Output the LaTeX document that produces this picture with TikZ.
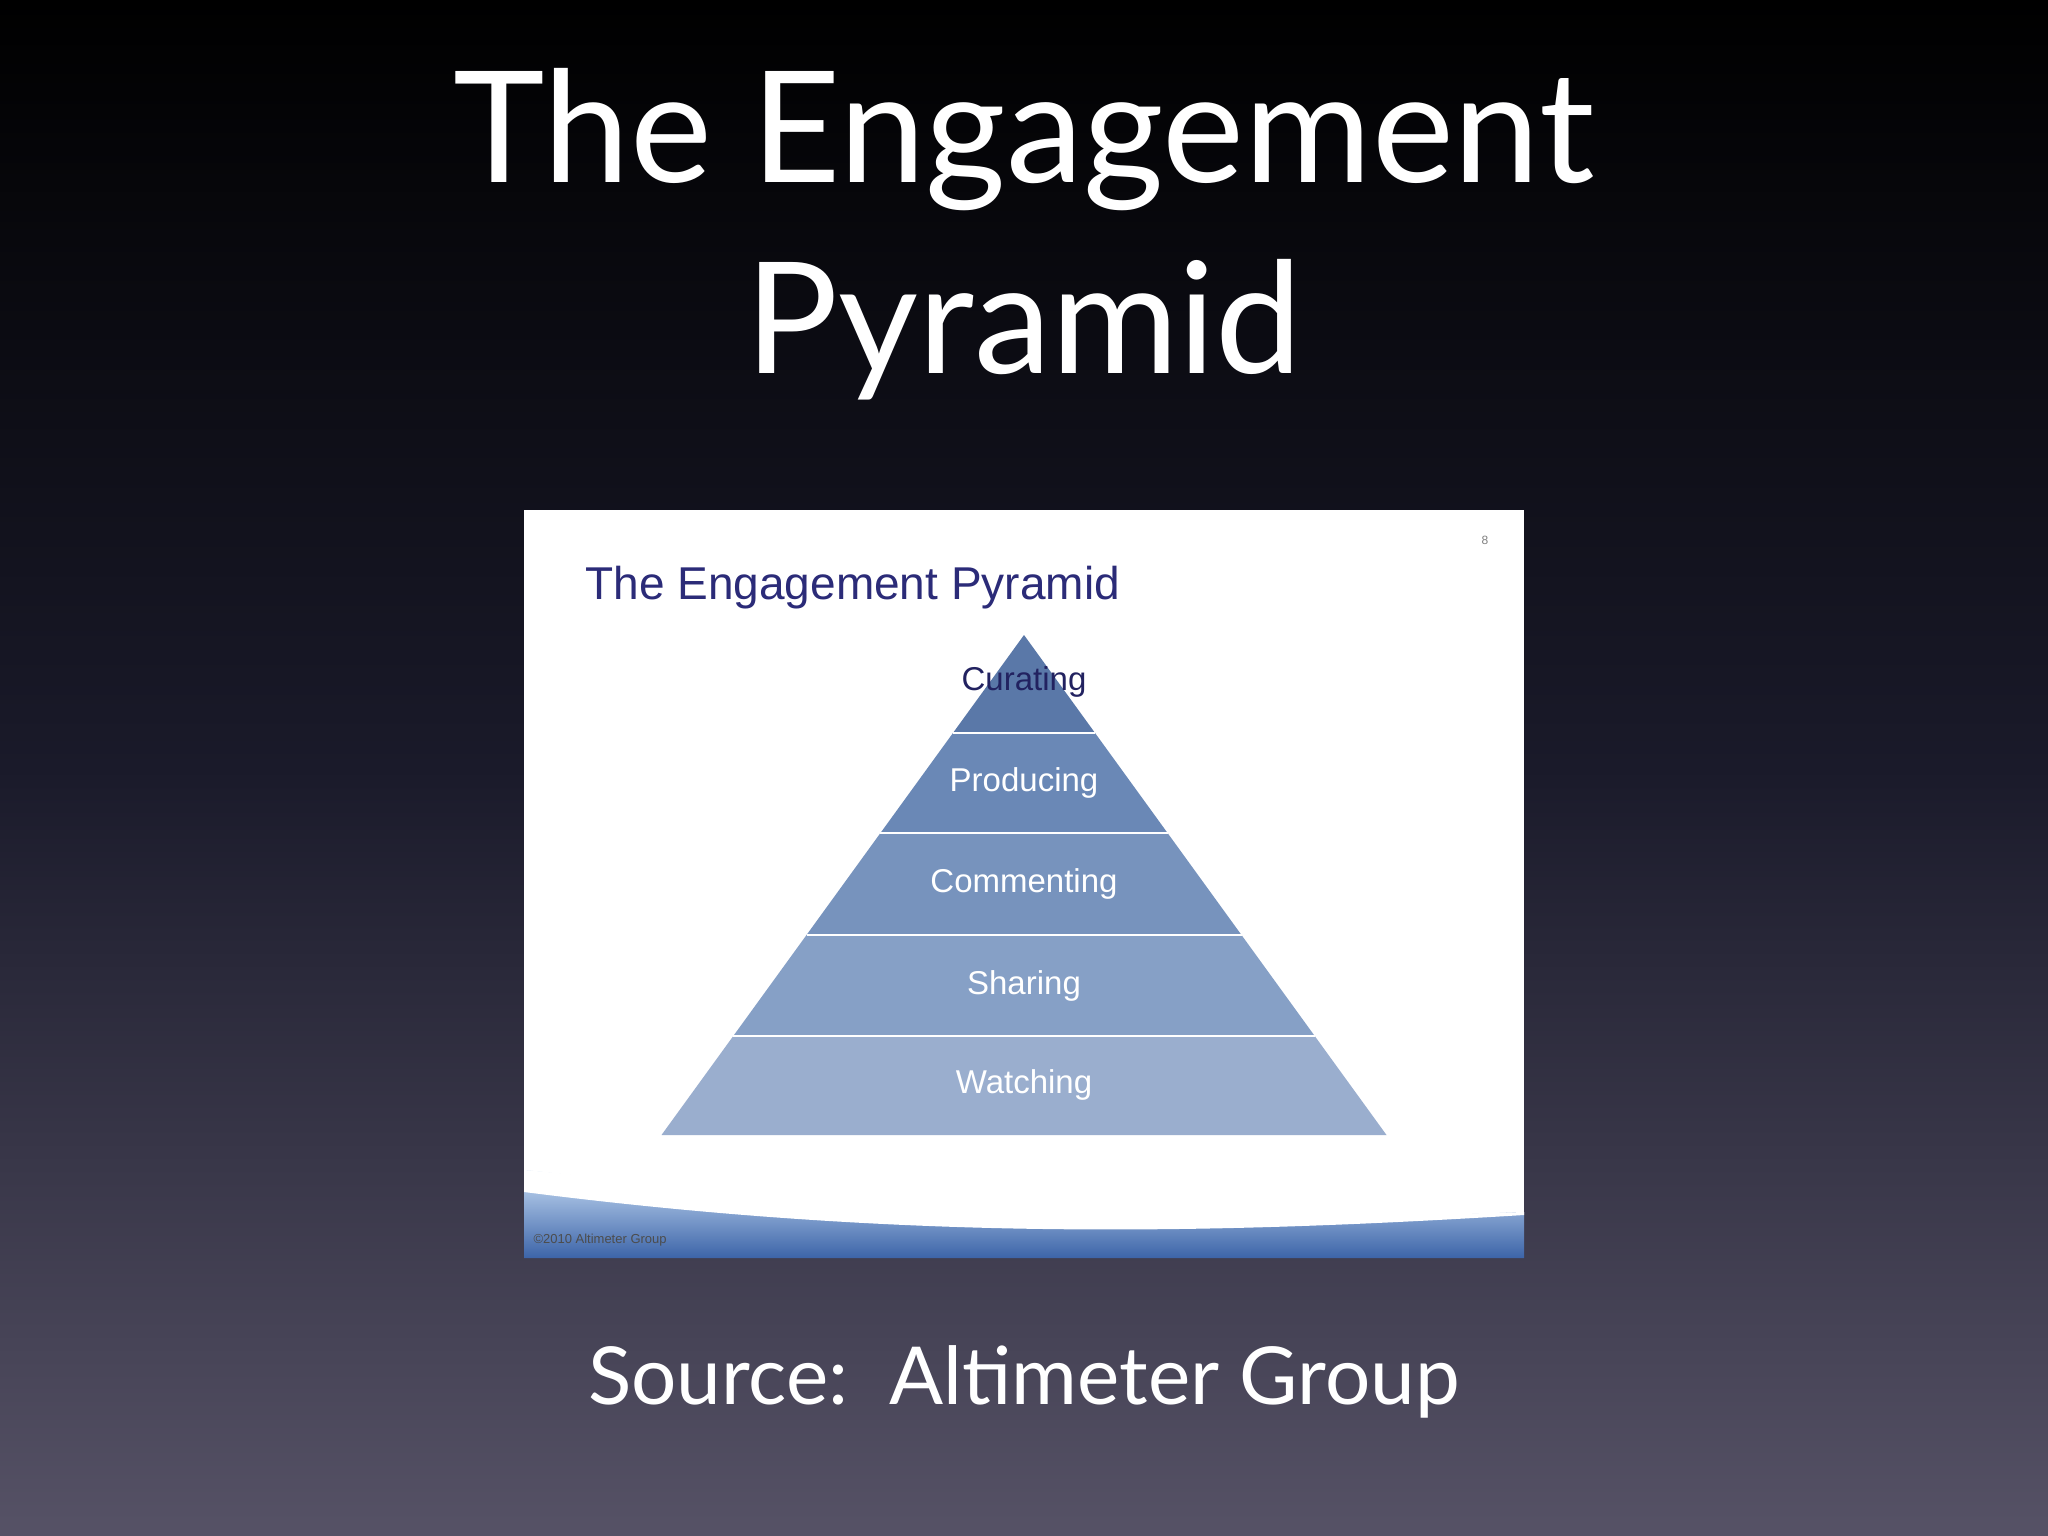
\documentclass[tikz,border=0pt]{standalone}
\usepackage{fontspec}
\setmainfont{Lato}
\newfontfamily\arial{Liberation Sans}
\begin{document}
\begin{tikzpicture}[x=1pt,y=-1pt,
 lab/.style={font=\arial\fontsize{33}{36}\selectfont,text=white}]
\definecolor{bgb}{HTML}{565266}
\definecolor{bgm}{HTML}{1A1A2A}
\definecolor{navy}{HTML}{2B2B78}
\definecolor{wlight}{HTML}{C8DDF5}
\definecolor{wdark}{HTML}{3C64A8}
\shade[top color=black,bottom color=bgb,middle color=bgm] (0,0) rectangle (2048,1536);
\useasboundingbox (0,0) rectangle (2048,1536);
\node[text=white,font=\fontsize{155}{170}\selectfont] (t1) at (1024,140) {The Engagement};
\node[text=white,font=\fontsize{155}{170}\selectfont] (t2) at (1024,330) {Pyramid};
\fill[white] (524,510) rectangle (1524,1258);
\shade[top color=wlight,bottom color=wdark] (524,1170) .. controls (800,1200) and (1100,1230) .. (1524,1212) -- (1524,1258) -- (524,1258) -- cycle;
\fill[white] (524,1192) .. controls (900,1240) and (1200,1235) .. (1524,1215) -- (1524,1212) .. controls (1100,1225) and (800,1195) .. (524,1170) -- cycle;
\node[anchor=west,font=\arial\fontsize{46}{50}\selectfont,text=navy] (it) at (582,588) {The Engagement Pyramid};
\node[font=\arial\fontsize{12}{14}\selectfont,text=gray] (pg) at (1485,540) {8};
\node[anchor=west,font=\arial\fontsize{13}{15}\selectfont,text=gray!60!black] (cp) at (530,1240) {\copyright 2010 Altimeter Group};
\def\hw#1{(#1-635)/500*362.5}
\foreach \ya/\yb/\c in {635/733/5A78A8,733/833/6A88B6,833/935/7793BD,935/1036/86A0C6,1036/1135/9AAECE}{
 \definecolor{lc}{HTML}{\c}
 \fill[lc] ({1024-\hw{\ya}},\ya) -- ({1024+\hw{\ya}},\ya) -- ({1024+\hw{\yb}},\yb) -- ({1024-\hw{\yb}},\yb) -- cycle;
 \draw[white,line width=2pt] ({1024-\hw{\ya}},\ya) -- ({1024+\hw{\ya}},\ya);
}
\node[lab,text=navy!80!black] (c) at (1024,682) {Curating};
\node[lab] (p) at (1024,783) {Producing};
\node[lab] (m) at (1024,884) {Commenting};
\node[lab] (s) at (1024,986) {Sharing};
\node[lab] (w) at (1024,1085) {Watching};
\node[text=white,font=\fontsize{80}{90}\selectfont] (src) at (1024,1382) {Source:\ \ Altimeter Group};
\end{tikzpicture}
\end{document}
